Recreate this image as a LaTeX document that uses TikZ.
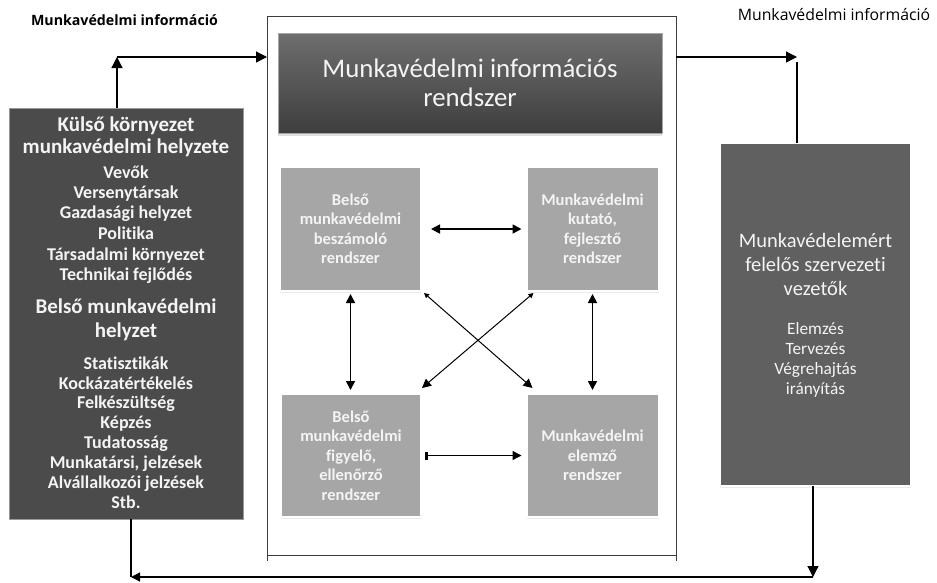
\documentclass[tikz,border=0pt]{standalone}
\usepackage{fontspec}
\setmainfont{Carlito}[Ligatures=NoCommon]
\newfontfamily\headfont{Open Sans}
\usetikzlibrary{arrows.meta,shadows,calc}

\definecolor{envgray}{HTML}{4B4B4B}
\definecolor{leadgray}{HTML}{606060}
\definecolor{subgray}{HTML}{A6A6A6}
\definecolor{misTop}{HTML}{6E6E6E}
\definecolor{misBot}{HTML}{3E3E3E}
\definecolor{lettering}{HTML}{F4F4F4}
\definecolor{framegray}{HTML}{3C3C3C}

\begin{document}
\begin{tikzpicture}[x=1pt,y=-1pt,
  every node/.style={inner sep=0pt, outer sep=0pt},
  heading/.style={anchor=base, text=black},
  panel/.style={rectangle, align=center, text=lettering},
  softshadow/.style={drop shadow={opacity=0.16, shadow xshift=0pt, shadow yshift=-2pt}},
  subbox/.style={panel, fill=subgray, draw=white, line width=2pt, softshadow,
    font=\bfseries\fontsize{16.5}{19.5}\selectfont},
  envbig/.style={anchor=base, text=lettering, font=\bfseries\fontsize{21}{24}\selectfont},
  envsmall/.style={anchor=base, text=lettering, font=\bfseries\fontsize{18}{20}\selectfont},
  leadbig/.style={anchor=base, text=lettering, font=\fontsize{20.5}{24}\selectfont},
  leadsmall/.style={anchor=base, text=lettering, font=\fontsize{17.3}{20}\selectfont},
  conn/.style={draw=black, line width=1.2pt},
  tipbig/.style={-{Triangle[length=11pt,width=11pt]}},
  tipsmall/.style={-{Triangle[length=9pt,width=9pt]}},
  pair/.style={draw=black, line width=1.7pt,
    {Triangle[length=9pt,width=9pt]}-{Triangle[length=9pt,width=9pt]}},
  pairbar/.style={draw=black, line width=1.2pt,
    {Rectangle[length=3pt,width=8pt]}-{Triangle[length=9pt,width=9pt]}},
  cross/.style={draw=black, line width=1pt,
    {Triangle[length=5pt,width=5pt]}-{Triangle[length=9pt,width=9pt]}}
]
\useasboundingbox (0,0) rectangle (937,582);

% headings above the flow
\node[heading, font=\headfont\bfseries\fontsize{14.2}{16}\selectfont, name=hdrL]
  at (124.5,25) {Munkavédelmi információ};
\node[heading, font=\headfont\fontsize{15.8}{17}\selectfont, name=hdrR]
  at (834,20) {Munkavédelmi információ};

% framed information system
\node[draw=framegray, line width=0.9pt, minimum width=409pt, minimum height=539pt,
  name=frame] at (471.5,285.5) {};
\draw[draw=framegray, line width=0.9pt] (frame.south west) -- ++(0,6);
\draw[draw=framegray, line width=0.9pt] (frame.south east) -- ++(0,6);

\node[panel, top color=misTop, bottom color=misBot, draw=gray!70, line width=0.6pt,
  drop shadow={opacity=0.25, shadow xshift=0pt, shadow yshift=-3pt},
  minimum width=384pt, minimum height=100pt,
  font=\fontsize{26.8}{29.5}\selectfont, name=mis]
  at (470,83) {Munkavédelmi információs\\rendszer};

% four subsystems
\node[subbox, minimum width=141pt, minimum height=124pt, name=b1]
  at (350.5,229) {Belső\\munkavédelmi\\beszámoló\\rendszer};
\node[subbox, minimum width=132pt, minimum height=124pt, name=b2]
  at (592.5,229) {Munkavédelmi\\kutató,\\fejlesztő\\rendszer};
\node[subbox, minimum width=140pt, minimum height=123pt, name=b3]
  at (351,455.5) {Belső\\munkavédelmi\\figyelő,\\ellenőrző\\rendszer};
\node[subbox, minimum width=132pt, minimum height=123pt, name=b4]
  at (592.5,455.5) {Munkavédelmi\\elemző\\rendszer};

% environment panel
\node[fill=envgray, draw=gray!80, line width=0.6pt,
  minimum width=234pt, minimum height=411pt, name=env] at (126,313.5) {};
\foreach \yy/\txt/\sty [count=\i] in {
  131/{Külső környezet}/envbig,
  153/{munkavédelmi helyzete}/envbig,
  178/{Vevők}/envsmall,
  198/{Versenytársak}/envsmall,
  218/{Gazdasági helyzet}/envsmall,
  239/{Politika}/envsmall,
  260/{Társadalmi környezet}/envsmall,
  280/{Technikai fejlődés}/envsmall,
  313/{Belső munkavédelmi}/envbig,
  337/{helyzet}/envbig,
  369/{Statisztikák}/envsmall,
  389/{Kockázatértékelés}/envsmall,
  408/{Felkészültség}/envsmall,
  428/{Képzés}/envsmall,
  448/{Tudatosság}/envsmall,
  468/{Munkatársi, jelzések}/envsmall,
  488/{Alvállalkozói jelzések}/envsmall,
  508/{Stb.}/envsmall}
  \node[\sty, name=envline\i] at (126,\yy) {\txt};

% leadership panel
\node[fill=leadgray, draw=white, line width=2pt, softshadow,
  minimum width=191pt, minimum height=343pt, name=lead] at (815.5,314.5) {};
\foreach \yy/\txt/\sty [count=\i] in {
  247/{Munkavédelemért}/leadbig,
  271/{felelős szervezeti}/leadbig,
  295/{vezetők}/leadbig,
  334/{Elemzés}/leadsmall,
  354/{Tervezés}/leadsmall,
  374/{Végrehajtás}/leadsmall,
  394/{irányítás}/leadsmall}
  \node[\sty, name=leadline\i] at (815.5,\yy) {\txt};

% information flow around the system
\coordinate (upL) at (117,57);
\coordinate (outR) at (797,57);
\coordinate (backR) at (813,577);
\coordinate (backL) at (131,577);
\draw[conn, tipbig] (env.north -| upL) -- (upL);
\draw[conn, tipbig] (upL) -- (upL -| frame.west);
\draw[conn, tipbig] (outR -| frame.east) -- (outR);
\draw[conn] ([yshift=-5pt]outR) -- (lead.north -| outR);
\draw[conn, tipbig] (lead.south -| backR) -- (backR);
\draw[conn, tipsmall] (backR) -- (backL);
\draw[conn] (env.south -| backL) -- (backL);

% links between the subsystems
\draw[pair] ([xshift=10pt]b1.east) -- ([xshift=-5pt]b2.west);
\draw[pairbar] ([xshift=4pt]b3.east) -- ([xshift=-5pt]b4.west);
\draw[pair] ([yshift=-3pt]b1.south) -- ([yshift=4pt]b1.south |- b3.north);
\draw[pair] ([yshift=-3pt]b2.south) -- ([yshift=4pt]b2.south |- b4.north);
\draw[cross] ($(b1.south east)+(3,2)$) -- ($(b4.north west)+(6,-6)$);
\draw[cross] ($(b2.south west)+(7,2)$) -- ($(b3.north east)+(1,-6)$);
\end{tikzpicture}
\end{document}
